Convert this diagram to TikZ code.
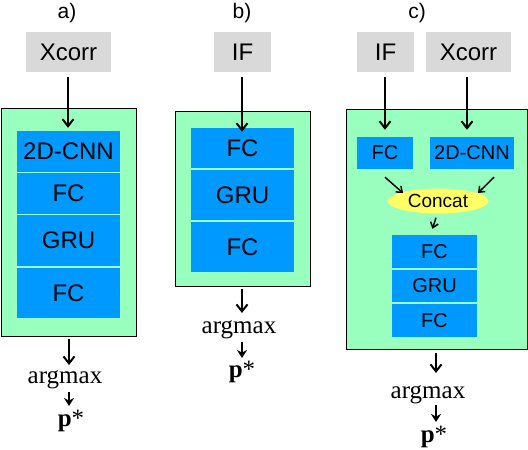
\documentclass[tikz,border=0pt]{standalone}
\usepackage{fontspec}
\setmainfont{Liberation Serif}
\setsansfont{Liberation Sans}
\usetikzlibrary{calc,arrows.meta,shapes.geometric}
\definecolor{mint}{HTML}{99FFBF}
\definecolor{blk}{HTML}{0099FF}
\definecolor{gry}{HTML}{D9D9D9}
\definecolor{yel}{HTML}{FFFF66}
\tikzset{
  lab/.style={font=\sffamily\fontsize{21}{21}\selectfont, inner sep=0pt},
  inp/.style={fill=gry, inner sep=0pt, font=\sffamily\fontsize{24}{24}\selectfont},
  grn/.style={fill=mint, draw=black, line width=1pt, inner sep=0pt},
  layer/.style={fill=blk, inner sep=0pt, font=\sffamily\fontsize{24}{24}\selectfont},
  layerc/.style={fill=blk, inner sep=0pt, font=\sffamily\fontsize{20}{20}\selectfont},
  cat/.style={ellipse, fill=yel, inner sep=0pt, font=\sffamily\fontsize{19}{19}\selectfont},
  srf/.style={inner sep=0pt, font=\fontsize{25}{25}\selectfont, anchor=base},
  arr/.style={-{Straight Barb[length=7pt,width=11pt]}, line width=2pt},
  arrs/.style={-{Straight Barb[length=5pt,width=8pt]}, line width=1.5pt},
  arrf/.style={-{Stealth[length=8pt,width=10pt]}, line width=2pt},
}
\begin{document}
\begin{tikzpicture}[x=1pt,y=-1pt]
\useasboundingbox (0,0) rectangle (528,450);
% ---------- a ----------
\node[lab] (la) at (67,13) {a)};
\node[inp, minimum width=85pt, minimum height=40pt] (xa) at (68.5,52) {Xcorr};
\node[grn, minimum width=135pt, minimum height=228pt] (ga) at (68.5,222) {};
\node[layer, minimum width=103pt, minimum height=40.5pt] (a1) at (68.5,151.25) {2D-CNN};
\node[layer, minimum width=103pt, minimum height=40.5pt] (a2) at (68.5,193.25) {FC};
\node[layer, minimum width=103pt, minimum height=51pt] (a3) at (68.5,240.5) {GRU};
\node[layer, minimum width=103pt, minimum height=50.5pt] (a4) at (68.5,292.75) {FC};
\node[srf] (ama) at (65,383) {argmax};
\node[srf] (pa) at (71,426) {\textbf{p}*};
\draw[arr] ($(xa.south)+(-0.5,5)$) -- ($(a1.north)+(-0.5,-3)$);
\draw[arr] ($(ga.south)+(0.5,2)$) -- ($(ama.base)+(4,-18)$);
\draw[arrf] ($(ama.base)+(4,9)$) -- ($(pa.base)+(-2,-20)$);
% ---------- b ----------
\node[lab] (lb) at (242,13) {b)};
\node[inp, minimum width=57pt, minimum height=40pt] (ib) at (242.5,52) {IF};
\node[grn, minimum width=135pt, minimum height=175pt] (gb) at (242.5,198.5) {};
\node[layer, minimum width=103pt, minimum height=40pt] (b1) at (242.5,148) {FC};
\node[layer, minimum width=103pt, minimum height=50.5pt] (b2) at (242.5,194.75) {GRU};
\node[layer, minimum width=103pt, minimum height=50.5pt] (b3) at (242.5,246.75) {FC};
\node[srf] (amb) at (239,333) {argmax};
\node[srf] (pb) at (242,377) {\textbf{p}*};
\draw[arr] ($(ib.south)+(-0.5,5)$) -- ($(b1.north)+(-0.5,4)$);
\draw[arr] ($(gb.south)+(-0.5,2)$) -- ($(amb.base)+(3,-20)$);
\draw[arrf] ($(amb.base)+(3,9)$) -- ($(pb.base)+(0,-19)$);
% ---------- c ----------
\node[lab] (lc) at (417,13) {c)};
\node[inp, minimum width=57pt, minimum height=40pt] (ic) at (385.5,52) {IF};
\node[inp, minimum width=85pt, minimum height=40pt] (xc) at (468.5,52) {Xcorr};
\node[grn, minimum width=181pt, minimum height=240pt] (gc) at (436.5,229) {};
\node[layerc, minimum width=56pt, minimum height=32pt] (cf) at (385,153) {FC};
\node[layerc, minimum width=84pt, minimum height=32pt] (cn) at (472,153) {2D-CNN};
\node[cat, minimum width=101pt, minimum height=25pt] (cc) at (438,201) {Concat};
\node[layerc, minimum width=85pt, minimum height=33pt] (c1) at (434.5,251.5) {FC};
\node[layerc, minimum width=85pt, minimum height=32.5pt] (c2) at (434.5,285.75) {GRU};
\node[layerc, minimum width=85pt, minimum height=33.5pt] (c3) at (434.5,320.25) {FC};
\node[srf] (amc) at (428,398) {argmax};
\node[srf] (pc) at (434,442) {\textbf{p}*};
\draw[arr] ($(ic.south)+(-0.5,5)$) -- ($(cf.north)+(0,-7)$);
\draw[arr] ($(xc.south)+(-1.5,5)$) -- ($(cn.north)+(-5,-7)$);
\draw[arrs] ($(cf.south)+(0,8)$) -- ($(cc.center)+(-35,-8)$);
\draw[arrs] ($(cn.south)+(22,8)$) -- ($(cc.center)+(40,-8)$);
\draw[arrs] ($(cc.south)+(-2,4)$) -- ($(c1.north)+(-2,-6)$);
\draw[arr] ($(gc.south)+(-0.5,3)$) -- ($(amc.base)+(8,-25)$);
\draw[arrf] ($(amc.base)+(8,7)$) -- ($(pc.base)+(2,-20)$);
\end{tikzpicture}
\end{document}
